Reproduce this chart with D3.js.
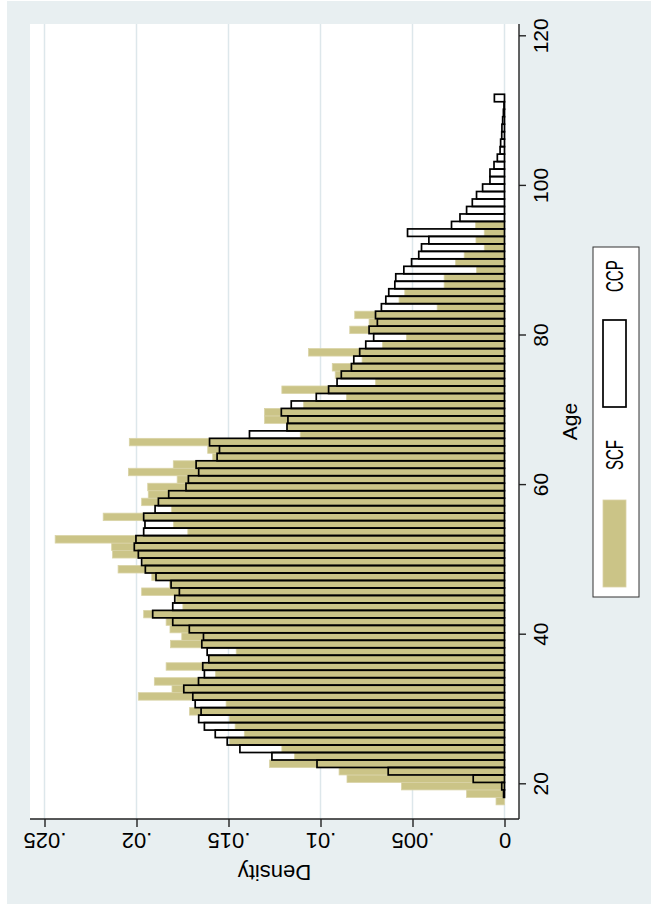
<!DOCTYPE html>
<html>
<head>
<meta charset="utf-8">
<script src="https://cdn.jsdelivr.net/npm/d3@7"></script>
<style>
  html, body { margin: 0; padding: 0; background: #ffffff; }
  svg { display: block; }
  text { font-family: "Liberation Sans", Arial, Helvetica, sans-serif; fill: #000; }
</style>
</head>
<body>
<div id="chart"></div>
<script>
// Age histograms: bins are one year wide, starting at these lower edges.
const scfStart = 17.25;
const ccpStart = 17.25;
const binWidth = 1;

// SCF density per bin (ages 17.25 .. 95.25)
const scfDensity = [
  0.00046, 0.00206, 0.00560, 0.00856, 0.00899, 0.01277, 0.01141, 0.01210, 0.01495, 0.01414,
  0.01464, 0.01495, 0.01712, 0.01513, 0.01990, 0.01807, 0.01903, 0.01571, 0.01839, 0.01604,
  0.01458, 0.01815, 0.01754, 0.01818, 0.01839, 0.01961, 0.01748, 0.01785, 0.01972, 0.01821,
  0.01917, 0.02100, 0.01966, 0.02130, 0.02135, 0.02442, 0.01721, 0.01799, 0.02181, 0.01809,
  0.01972, 0.01936, 0.01939, 0.01779, 0.02044, 0.01800, 0.01586, 0.01613, 0.02039, 0.01110,
  0.01182, 0.01304, 0.01304, 0.01092, 0.00859, 0.01210, 0.00701, 0.00920, 0.00936, 0.00774,
  0.01065, 0.00663, 0.00533, 0.00841, 0.00736, 0.00814, 0.00366, 0.00573, 0.00542, 0.00328,
  0.00328, 0.00152, 0.00266, 0.00219, 0.00110, 0.00155, 0.00110, 0.00157
];

// CCP density per bin (ages 17.25 .. 112.25)
const ccpDensity = [
  0.00000, 0.00005, 0.00015, 0.00170, 0.00632, 0.01019, 0.01264, 0.01438, 0.01507, 0.01572,
  0.01631, 0.01662, 0.01649, 0.01681, 0.01694, 0.01743, 0.01663, 0.01631, 0.01640, 0.01607,
  0.01616, 0.01645, 0.01636, 0.01713, 0.01803, 0.01912, 0.01803, 0.01792, 0.01767, 0.01812,
  0.01894, 0.01952, 0.01972, 0.01990, 0.02012, 0.02003, 0.01961, 0.01954, 0.01961, 0.01899,
  0.01881, 0.01825, 0.01731, 0.01718, 0.01662, 0.01676, 0.01562, 0.01549, 0.01603, 0.01386,
  0.01182, 0.01177, 0.01213, 0.01159, 0.01023, 0.00956, 0.00910, 0.00887, 0.00832, 0.00819,
  0.00787, 0.00754, 0.00711, 0.00736, 0.00691, 0.00701, 0.00669, 0.00645, 0.00629, 0.00596,
  0.00591, 0.00547, 0.00505, 0.00466, 0.00451, 0.00411, 0.00527, 0.00288, 0.00242, 0.00206,
  0.00175, 0.00152, 0.00119, 0.00079, 0.00079, 0.00057, 0.00039, 0.00024, 0.00021, 0.00015,
  0.00014, 0.00010, 0.00006, 0.00003, 0.00055
];

const ageTicks = [20, 40, 60, 80, 100, 120];
const densityTicks = [0, 0.005, 0.01, 0.015, 0.02, 0.025];
const densityTickLabels = ["0", ".005", ".01", ".015", ".02", ".025"];
const seriesNames = ["SCF", "CCP"];

const khaki = "#cbc487";
const khakiEdge = "#d9d3a6";
const regionFill = "#e8eff1";
const gridColor = "#dde7eb";

// The graph is laid out landscape (911 x 658) and turned a quarter turn
// counter-clockwise to fit the portrait page.
const W = 911, H = 658;
const svg = d3.select("#chart").append("svg")
  .attr("width", H).attr("height", W);

const g = svg.append("g").attr("transform", `translate(0,${W}) rotate(-90)`);

// graph region
g.append("rect").attr("x", 7).attr("y", 7).attr("width", 903).attr("height", 644)
  .attr("fill", regionFill);

// plot region
const plot = { left: 92, right: 887, top: 30, bottom: 519 };
g.append("rect")
  .attr("x", plot.left).attr("y", plot.top)
  .attr("width", plot.right - plot.left).attr("height", plot.bottom - plot.top)
  .attr("fill", "#ffffff");

const x = d3.scaleLinear().domain([20, 120]).range([126.7, 874.7]);
const y = d3.scaleLinear().domain([0, 0.025]).range([504.5, 44.5]);

// horizontal grid lines at the density ticks
g.append("g").selectAll("line").data(densityTicks).join("line")
  .attr("x1", plot.left).attr("x2", plot.right)
  .attr("y1", d => y(d)).attr("y2", d => y(d))
  .attr("stroke", gridColor).attr("stroke-width", 1.5);

const scfBins = scfDensity.map((d, i) => ({ lo: scfStart + i * binWidth, d }));
const ccpBins = ccpDensity.map((d, i) => ({ lo: ccpStart + i * binWidth, d }));

// SCF bars: filled khaki
g.append("g").selectAll("rect").data(scfBins).join("rect")
  .attr("x", b => x(b.lo))
  .attr("width", b => x(b.lo + binWidth) - x(b.lo))
  .attr("y", b => y(b.d))
  .attr("height", b => y(0) - y(b.d))
  .attr("fill", khaki)
  .attr("stroke", khakiEdge).attr("stroke-width", 0.8);

// CCP bars: black outline only
g.append("g").selectAll("rect").data(ccpBins).join("rect")
  .attr("x", b => x(b.lo))
  .attr("width", b => x(b.lo + binWidth) - x(b.lo))
  .attr("y", b => y(b.d))
  .attr("height", b => y(0) - y(b.d))
  .attr("fill", "none")
  .attr("stroke", "#000").attr("stroke-width", 1.7);

// density axis (left side of the landscape graph)
const yAxis = d3.axisLeft(y).tickValues(densityTicks)
  .tickFormat((d, i) => densityTickLabels[i]).tickSize(8).tickSizeOuter(0);
const yg = g.append("g").attr("transform", `translate(${plot.left},0)`).call(yAxis);
yg.select(".domain").attr("d", `M0,${plot.top}V${plot.bottom}`)
  .attr("stroke", "#222").attr("stroke-width", 1.4);
yg.selectAll(".tick line").attr("stroke", "#222").attr("stroke-width", 1.4);
yg.selectAll(".tick text")
  .attr("transform", "rotate(-90)")
  .attr("x", 0).attr("y", -14).attr("dy", 0)
  .attr("text-anchor", "middle")
  .style("font-size", "22px").style("font-family", null);

// age axis (bottom of the landscape graph)
const xAxis = d3.axisBottom(x).tickValues(ageTicks).tickFormat(d3.format("d"))
  .tickSize(7).tickSizeOuter(0);
const xg = g.append("g").attr("transform", `translate(0,${plot.bottom})`).call(xAxis);
xg.select(".domain").attr("d", `M${plot.left},0H${plot.right}`)
  .attr("stroke", "#222").attr("stroke-width", 1.4);
xg.selectAll(".tick line").attr("stroke", "#222").attr("stroke-width", 1.4);
xg.selectAll(".tick text")
  .attr("y", 29).attr("dy", 0)
  .style("font-size", "21px").style("font-family", null);

// axis titles
g.append("text")
  .attr("x", (plot.left + plot.right) / 2).attr("y", 577)
  .attr("text-anchor", "middle").style("font-size", "21px")
  .text("Age");
g.append("text")
  .attr("transform", `translate(46,${(plot.top + plot.bottom) / 2}) rotate(-90)`)
  .attr("text-anchor", "middle").style("font-size", "22px")
  .text("Density");

// legend
const legend = g.append("g");
legend.append("rect").attr("x", 314).attr("y", 593).attr("width", 350).attr("height", 46)
  .attr("fill", "#ffffff").attr("stroke", "#333").attr("stroke-width", 1);
const legendItems = [
  { name: seriesNames[0], sx: 324, tx: 441, fill: khaki, stroke: khakiEdge, sw: 0.8 },
  { name: seriesNames[1], sx: 504, tx: 619, fill: "#ffffff", stroke: "#000", sw: 1.7 }
];
legendItems.forEach(it => {
  legend.append("rect").attr("x", it.sx).attr("y", 603).attr("width", 87).attr("height", 23)
    .attr("fill", it.fill).attr("stroke", it.stroke).attr("stroke-width", it.sw);
  // legend labels are set tall and narrow
  legend.append("text")
    .attr("transform", `translate(${it.tx},623) scale(1,1.55)`)
    .style("font-size", "15px").text(it.name);
});
</script>
</body>
</html>
